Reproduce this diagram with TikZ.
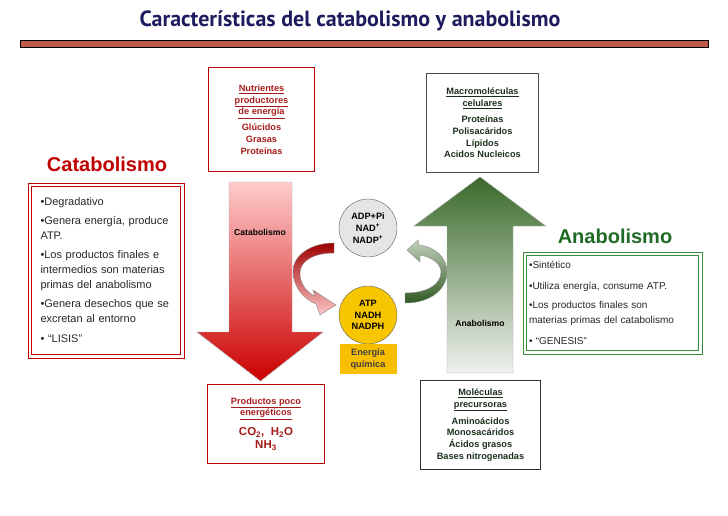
\documentclass[tikz,border=0pt]{standalone}
\usepackage{fontspec}
\setmainfont{Liberation Sans}
\newfontfamily\titlefont{PT Sans}
\usepackage{xcolor}
\usetikzlibrary{positioning, arrows.meta, shapes.geometric, calc}

\definecolor{catred}{HTML}{C00000}
\definecolor{txtred}{HTML}{A61C1C}
\definecolor{anagreen}{HTML}{1F6B25}
\definecolor{boxgreen}{HTML}{3C8C3C}
\definecolor{txtgreen}{HTML}{1B2E1B}
\definecolor{navy}{HTML}{1C1C5E}
\definecolor{barfill}{HTML}{BE5A48}
\definecolor{gold}{HTML}{F7C600}
\definecolor{darkleaf}{HTML}{3A6A2A}
\definecolor{paleleaf}{HTML}{F0F2EE}

\begin{document}
\begin{tikzpicture}[x=1pt, y=-1pt, every node/.style={inner sep=0pt},
    boxtxt/.style={font=\fontsize{9.2}{11.8}\selectfont\bfseries, align=center},
    listtxt/.style={font=\fontsize{#1}{15}\selectfont, align=left, text=black!85},
    framebox/.style={rectangle, draw=#1, line width=0.8pt}]
    \useasboundingbox (0,0) rectangle (728,515);
    % Title and bar
    \node[font=\titlefont\bfseries\fontsize{22}{26}\selectfont, text=navy] (title) at (350,20.5) {Características del catabolismo y anabolismo};
    \draw[fill=barfill, line width=0.8pt] (20,40) rectangle (708,47);
    % Top and bottom boxes
    \node[rectangle, draw=catred, line width=1pt, minimum width=106pt, minimum height=104pt, boxtxt, text=txtred] (nutri) at (261.5,119.5)
        {\underline{Nutrientes}\\\underline{productores}\\\underline{de energía}\\[4pt]Glúcidos\\Grasas\\Proteínas};
    \node[rectangle, draw=black!70, line width=1pt, minimum width=112pt, minimum height=99pt, boxtxt, text=txtgreen] (macro) at (482.5,123)
        {\underline{Macromoléculas}\\\underline{celulares}\\[4pt]Proteínas\\Polisacáridos\\Lípidos\\Acidos Nucleicos};
    \node[rectangle, draw=catred, line width=1pt, minimum width=117pt, minimum height=79pt, boxtxt, text=txtred] (prod) at (266,424)
        {\underline{Productos poco}\\\underline{energéticos}\\[7pt]{\fontsize{11.5}{12}\selectfont CO\textsubscript{2},\ \ H\textsubscript{2}O}\\[1pt]{\fontsize{11.5}{12}\selectfont NH\textsubscript{3}}};
    \node[rectangle, draw=black!80, line width=1.3pt, minimum width=120pt, minimum height=89pt, boxtxt, text=txtgreen] (prec) at (480.5,425)
        {\underline{Moléculas}\\\underline{precursoras}\\[5pt]Aminoácidos\\Monosacáridos\\Ácidos grasos\\Bases nitrogenadas};
    % Headings and lists
    \node[font=\fontsize{20}{24}\selectfont\bfseries, text=catred] (cathead) at (107,164) {Catabolismo};
    \node[font=\fontsize{20}{24}\selectfont\bfseries, text=anagreen] (anahead) at (615,236) {Anabolismo};
    \node[framebox=catred, minimum width=149.2pt, minimum height=168.2pt, text width=131pt, listtxt=11] (catlist) at (106,270.5)
        {•Degradativo\\[4pt]•Genera energía, produce\\ATP.\\[4pt]•Los productos finales e\\intermedios son materias\\primas del anabolismo\\[4pt]•Genera desechos que se\\excretan al entorno\\[5pt]• ``LISIS''};
    \draw[catred, line width=0.8pt] ($(catlist.south west)+(-3,3)$) rectangle ($(catlist.north east)+(3,-3)$);
    \node[framebox=boxgreen, minimum width=172.2pt, minimum height=95.2pt, text width=167pt, listtxt=10] (analist) at (612.5,303)
        {•Sintético\\[6pt]•Utiliza energía, consume ATP.\\[4pt]•Los productos finales son\\materias primas del catabolismo\\[6pt]• ``GENESIS''};
    \draw[boxgreen, line width=0.8pt] ($(analist.south west)+(-3,3)$) rectangle ($(analist.north east)+(3,-3)$);
    % Curved arrows between the cofactors
    \path[draw=black!45, line width=0.4pt, top color=red!62!black, middle color=red!75!black, bottom color=red!22] (334,243) .. controls (310,243) and (293,256) .. (293,271) .. controls (293,288) and (305,300) .. (316,304) -- (320,315) -- (336,305) -- (313,290) -- (315,296) .. controls (306,292) and (300,283) .. (300,273) .. controls (300,262) and (312,253) .. (334,253) -- cycle;
    \path[draw=black!45, line width=0.4pt, top color=darkleaf!25!paleleaf, bottom color=darkleaf!85!black] (405,303) .. controls (432,303) and (447,288) .. (447,272) .. controls (447,258) and (436,247) .. (419,245) -- (418,240) -- (407,250) -- (420,262) -- (420,255) .. controls (432,257) and (441,264) .. (441,272) .. controls (441,284) and (428,293) .. (405,293) -- cycle;
    % Big arrows
    \path[draw=black!35, line width=0.4pt, top color=red!20, bottom color=red!80!black] (229,182) -- (292,182) -- (292,332) -- (323,332) -- (260.5,381) -- (197,332) -- (229,332) -- cycle;
    \path[draw=black!35, line width=0.4pt, top color=darkleaf, bottom color=paleleaf] (480,177) -- (545.7,226) -- (513,226) -- (513,373) -- (447,373) -- (447,226) -- (414,226) -- cycle;
    \node[font=\fontsize{8.6}{10}\selectfont\bfseries] (catlbl) at (260,232) {Catabolismo};
    \node[font=\fontsize{8.6}{10}\selectfont\bfseries] (analbl) at (480,323) {Anabolismo};
    % Cofactors
    \node[circle, draw=black!65, fill=black!10, minimum size=58pt, boxtxt] (adp) at (368,228) {ADP+Pi\\NAD\textsuperscript{+}\\NADP\textsuperscript{+}};
    \node[circle, draw=black!65, fill=gold, minimum size=58pt, boxtxt] (atp) at (368,315) {ATP\\NADH\\NADPH};
    \node[rectangle, fill=gold!90!orange, minimum width=57pt, minimum height=30pt, boxtxt, text=black!75, below=0pt of atp] (energia) {Energía\\química};
\end{tikzpicture}
\end{document}
